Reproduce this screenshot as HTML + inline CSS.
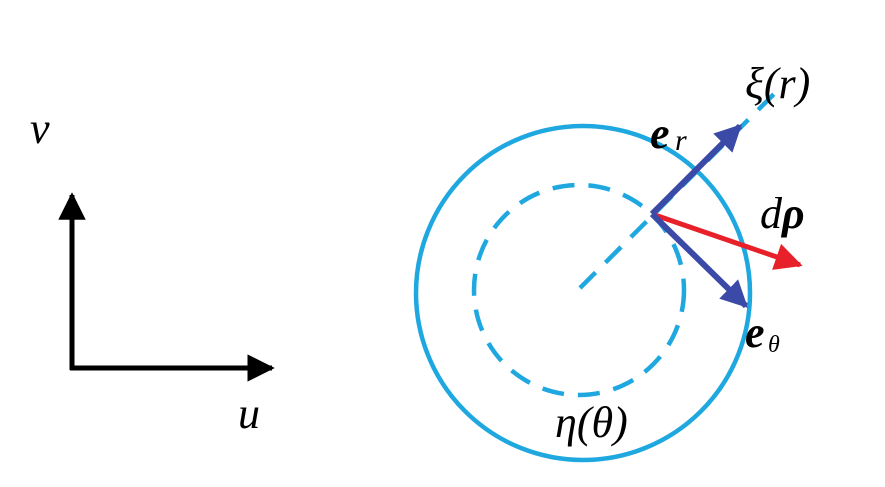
<!DOCTYPE html>
<html><head><style>body{margin:0;background:#fff;width:885px;height:482px;overflow:hidden}</style></head>
<body>
<svg width="885" height="482" viewBox="0 0 885 482" xmlns="http://www.w3.org/2000/svg">
<defs>
<marker id="ab" viewBox="0 0 10 10" refX="9" refY="5" markerWidth="5.5" markerHeight="5.5" orient="auto" markerUnits="strokeWidth"><path d="M0,0L10,5L0,10z" fill="#000"/></marker>
<marker id="bb" viewBox="0 0 10 10" refX="9" refY="5" markerWidth="4.5" markerHeight="4.5" orient="auto" markerUnits="strokeWidth"><path d="M0,0L10,5L0,10z" fill="#3a4aa6"/></marker>
<marker id="rb" viewBox="0 0 10 10" refX="9" refY="5" markerWidth="6" markerHeight="5.5" orient="auto" markerUnits="strokeWidth"><path d="M0,0L10,5L0,10z" fill="#e8202a"/></marker>
</defs>
<line x1="72" y1="370" x2="72" y2="195" stroke="#000" stroke-width="5" marker-end="url(#ab)"/>
<line x1="70" y1="368" x2="272" y2="368" stroke="#000" stroke-width="5" marker-end="url(#ab)"/>
<text x="30" y="143" font-family="Liberation Serif,serif" font-style="italic" font-size="44">v</text>
<text x="238" y="428" font-family="Liberation Serif,serif" font-style="italic" font-size="44">u</text>
<circle cx="583" cy="293" r="167" fill="none" stroke="#1fa8e0" stroke-width="4.5"/>
<circle cx="579" cy="290" r="105" fill="none" stroke="#1fa8e0" stroke-width="4.5" stroke-dasharray="22 14"/>
<line x1="580" y1="288" x2="780" y2="88" stroke="#1fa8e0" stroke-width="4.5" stroke-dasharray="22 14"/>
<line x1="652" y1="214" x2="800" y2="265" stroke="#e8202a" stroke-width="5" marker-end="url(#rb)"/>
<line x1="652" y1="214" x2="740" y2="126" stroke="#3a4aa6" stroke-width="6" marker-end="url(#bb)"/>
<line x1="652" y1="214" x2="746" y2="306" stroke="#3a4aa6" stroke-width="6" marker-end="url(#bb)"/>
<text x="745" y="98" font-family="Liberation Serif,serif" font-style="italic" font-size="44">ξ(r)</text>
<text x="650" y="148" font-family="Liberation Serif,serif" font-style="italic" font-weight="bold" font-size="44">e</text>
<text x="675" y="150" font-family="Liberation Serif,serif" font-style="italic" font-size="30">r</text>
<text x="760" y="228" font-family="Liberation Serif,serif" font-style="italic" font-size="44">d<tspan font-weight="bold">ρ</tspan></text>
<text x="745" y="347" font-family="Liberation Serif,serif" font-style="italic" font-weight="bold" font-size="44">e</text>
<text x="768" y="352" font-family="Liberation Serif,serif" font-style="italic" font-size="24">θ</text>
<text x="555" y="437" font-family="Liberation Serif,serif" font-style="italic" font-size="44">η(θ)</text>
</svg>
</body></html>
